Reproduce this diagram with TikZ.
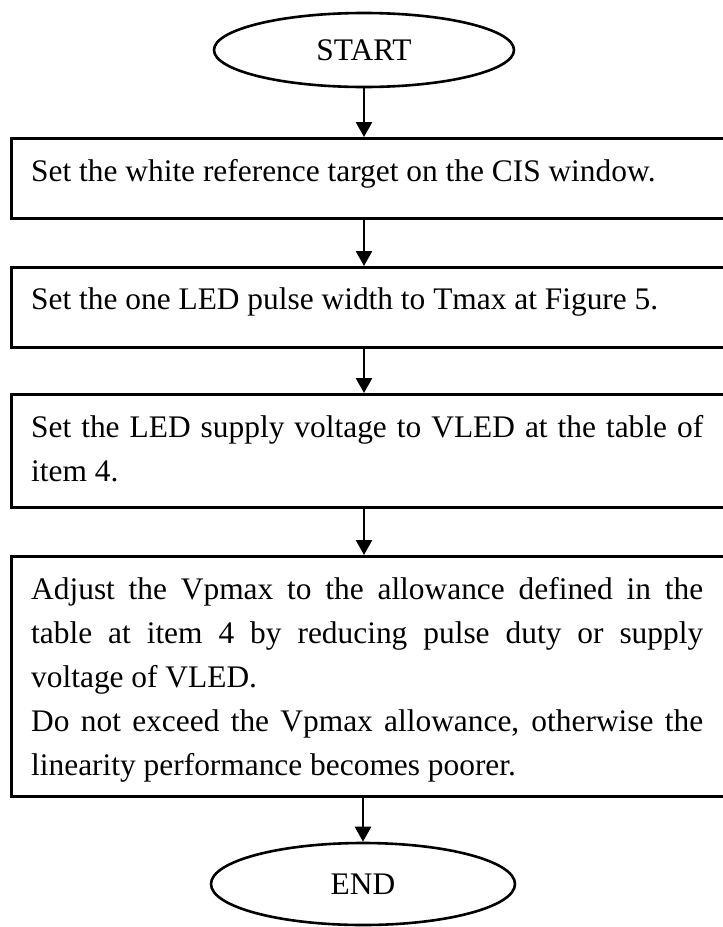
\documentclass[tikz,border=0pt]{standalone}
\usepackage{fontspec}
\setmainfont{Liberation Serif}
\usetikzlibrary{arrows.meta,shapes.geometric}
\begin{document}
\begin{tikzpicture}[x=1pt,y=-1pt,
  term/.style={draw, ellipse, line width=2.6pt, minimum width=300pt, minimum height=74pt, inner sep=0pt, font=\fontsize{31.4}{44}\selectfont},
  stepbox/.style={draw, rectangle, line width=2.6pt, minimum width=722pt, anchor=north west, inner sep=0pt},
  body/.style={anchor=base west, inner sep=0pt, font=\fontsize{31.4}{44}\selectfont},
  flow/.style={line width=2.6pt, -{Triangle[width=16pt,length=15pt]}}]
\useasboundingbox (0,0) rectangle (723,927);
\node[term] (start) at (364,50) {START};
\node[stepbox, minimum height=80pt] (b1) at (10,137) {};
\node[stepbox, minimum height=80pt] (b2) at (10,266) {};
\node[stepbox, minimum height=113pt] (b3) at (10,393) {};
\node[stepbox, minimum height=240pt] (b4) at (10,555) {};
\node[term, minimum width=304pt, minimum height=82pt] (end) at (363,884) {END};
\node[body] (t1) at (31,181) {Set the white reference target on the CIS window.};
\node[body] (t2) at (31,309) {Set the one LED pulse width to Tmax at Figure 5.};
\node[body] (t3) at (31,437) {\parbox[t]{672pt}{Set the LED supply voltage to VLED at the table of\linebreak item 4.}};
\node[body] (t4) at (31,599) {\parbox[t]{672pt}{Adjust the Vpmax to the allowance defined in the\linebreak table at item 4 by reducing pulse duty or supply\linebreak voltage of VLED.\par Do not exceed the Vpmax allowance, otherwise the\linebreak linearity performance becomes poorer.}};
\draw[flow] (start.south) -- (start.south |- b1.north);
\draw[flow] (start.south |- b1.south) -- (start.south |- b2.north);
\draw[flow] (start.south |- b2.south) -- (start.south |- b3.north);
\draw[flow] (start.south |- b3.south) -- (start.south |- b4.north);
\draw[flow] (end.north |- b4.south) -- (end.north);
\end{tikzpicture}
\end{document}
